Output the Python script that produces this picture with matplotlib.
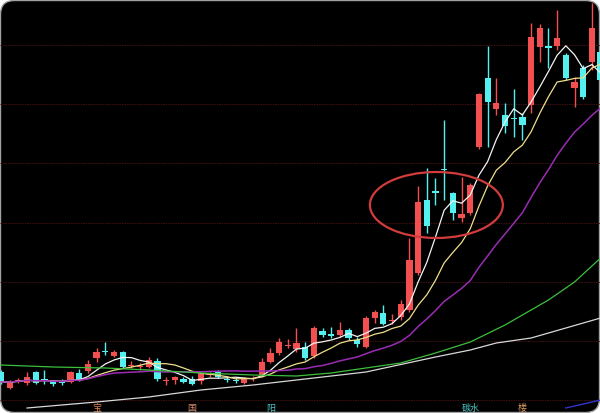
import numpy as np
import pandas as pd
import matplotlib
matplotlib.use('Agg')
import matplotlib.pyplot as plt
from matplotlib.patches import FancyBboxPatch, Ellipse
from matplotlib.transforms import IdentityTransform

plt.rcParams['font.family'] = ['Noto Sans CJK SC', 'DejaVu Sans']

# K线数据 (开, 高, 低, 收)
opens = [4.56, 4.24, 4.38, 4.34, 4.56, 4.42, 4.36, 4.36, 4.36, 4.54,
         4.58, 4.84, 4.98, 4.88, 4.96, 4.68, 4.66, 4.66, 4.78, 4.38,
         4.40, 4.42, 4.42, 4.38, 4.50, 4.56, 4.42, 4.40, 4.34, 4.42,
         4.50, 4.76, 4.94, 5.08, 5.02, 5.06, 4.88, 5.38, 5.32, 5.30,
         5.40, 5.20, 5.06, 5.64, 5.74, 5.58, 5.66, 5.80, 6.54, 8.00,
         8.18, 8.62, 8.14, 7.64, 7.74, 9.06, 10.44, 9.82, 9.70, 9.64,
         9.66, 9.90, 11.06, 11.08, 11.08, 10.90, 10.24, 10.64, 10.76, 10.96]
highs = [4.60, 4.40, 4.44, 4.56, 4.58, 4.60, 4.40, 4.42, 4.58, 4.62,
         4.80, 5.04, 5.16, 5.00, 4.98, 4.78, 4.74, 4.86, 4.84, 4.46,
         4.48, 4.46, 4.48, 4.54, 4.56, 4.60, 4.48, 4.46, 4.46, 4.48,
         4.84, 5.04, 5.24, 5.22, 5.44, 5.16, 5.48, 5.44, 5.46, 5.56,
         5.44, 5.26, 5.68, 5.80, 5.90, 5.72, 6.00, 7.24, 8.28, 8.64,
         8.44, 9.60, 8.16, 8.46, 8.34, 10.14, 11.08, 10.44, 9.94, 10.22,
         9.74, 11.54, 11.52, 11.44, 11.80, 10.94, 10.46, 10.70, 11.94, 11.00]
lows = [4.32, 4.22, 4.34, 4.30, 4.32, 4.32, 4.28, 4.30, 4.34, 4.38,
        4.54, 4.76, 4.90, 4.86, 4.64, 4.64, 4.60, 4.64, 4.38, 4.30,
        4.32, 4.34, 4.30, 4.32, 4.46, 4.44, 4.36, 4.34, 4.32, 4.38,
        4.46, 4.74, 4.90, 5.04, 4.96, 4.80, 4.84, 5.26, 5.24, 5.26,
        5.20, 5.06, 5.04, 5.54, 5.50, 5.52, 5.60, 5.76, 6.50, 7.34,
        7.90, 8.00, 7.60, 7.56, 7.70, 9.02, 9.06, 9.70, 9.34, 9.26,
        9.20, 9.74, 10.76, 10.64, 11.00, 10.40, 9.86, 10.02, 10.60, 10.34]
closes = [4.36, 4.36, 4.40, 4.46, 4.34, 4.40, 4.32, 4.34, 4.56, 4.40,
          4.72, 4.96, 4.96, 4.96, 4.66, 4.70, 4.68, 4.80, 4.42, 4.40,
          4.46, 4.36, 4.32, 4.52, 4.52, 4.46, 4.40, 4.38, 4.44, 4.44,
          4.76, 4.94, 5.16, 5.10, 5.14, 4.84, 5.44, 5.30, 5.28, 5.40,
          5.24, 5.12, 5.64, 5.76, 5.52, 5.60, 5.92, 6.80, 7.96, 7.48,
          8.14, 8.60, 7.74, 7.72, 8.30, 10.12, 9.96, 9.94, 9.48, 9.62,
          9.50, 11.26, 11.44, 11.04, 11.24, 10.44, 10.36, 10.06, 11.44, 10.40]

# 长周期均线
ma60_idx = [0, 6, 12, 17, 23, 29, 34, 38, 42, 46, 50, 54, 58, 61, 63, 66, 69]
ma60_val = [4.70, 4.66, 4.64, 4.60, 4.54, 4.50, 4.48, 4.54, 4.64, 4.74,
            4.94, 5.16, 5.50, 5.80, 6.00, 6.36, 6.84]
ma120_idx = [3, 11, 17, 23, 29, 34, 42, 50, 54, 57, 61, 65, 69]
ma120_val = [3.84, 3.96, 4.06, 4.20, 4.30, 4.40, 4.56, 4.86, 5.00, 5.14,
             5.24, 5.44, 5.64]
ma250_idx = [65, 67, 69]
ma250_val = [3.84, 3.92, 4.00]

# 事件标记
mark_idx = [11, 22, 31, 54, 60]
mark_txt = ['宝', '国', '阳', '碳水', '楼']
mark_col = ['#e08a50', '#d88a6a', '#4cc8c8', '#4cc8c8', '#e0a060']

up_col = '#f25050'
down_col = '#54f0f0'

fig = plt.figure(figsize=(6, 4.13), dpi=100, facecolor='white')
box = FancyBboxPatch((0.5, 0.5), 599, 412, boxstyle='round,pad=0,rounding_size=14',
                     transform=IdentityTransform(), facecolor='black',
                     edgecolor='#a0a0a0', lw=1.0, zorder=-5)
fig.patches.append(box)

ax = fig.add_axes([0, 0, 1, 1])
ax.patch.set_visible(False)
ax.axis('off')

x = np.arange(len(closes))
o = np.array(opens)
c = np.array(closes)
h = np.array(highs)
l = np.array(lows)
up = c >= o
cols = np.where(up, up_col, down_col)

# 网格
for gy in np.linspace(4.0, 11.1, 7):
    ax.axhline(gy, color='#441212', lw=0.7, ls=(0, (1.5, 1)), zorder=1)

ax.vlines(x, l, h, colors=cols, lw=1.0, zorder=2)
body = np.maximum(np.abs(c - o), 0.02)
ax.bar(x, body, bottom=np.minimum(o, c), width=0.72, color=cols, zorder=3)

s = pd.Series(closes)
ma5 = s.rolling(5, min_periods=1).mean()
ma10 = s.rolling(10, min_periods=1).mean()
ma20 = s.rolling(20, min_periods=1).mean()

ax.plot(x, ma5, color='#f4f4f4', lw=0.9, zorder=4)
ax.plot(x, ma10, color='#f0e08a', lw=0.9, zorder=4)
ax.plot(x, ma20, color='#9a2cb4', lw=1.1, zorder=4)
ax.plot(ma60_idx, ma60_val, color='#3cc03c', lw=0.9, zorder=4)
ax.plot(ma120_idx, ma120_val, color='#d8d8d8', lw=0.9, zorder=4)
ax.plot(ma250_idx, ma250_val, color='#3434d0', lw=1.0, zorder=4)

ax.add_patch(Ellipse((50.1, 7.90), 15.3, 1.32, fill=False,
                     edgecolor='#d23c3c', lw=1.6, zorder=5))

for i, t, col in zip(mark_idx, mark_txt, mark_col):
    ax.text(i, 3.93, t, color=col, fontsize=6.5, ha='center', va='top', zorder=5)

ax.set_xlim(-0.115, 68.93)
ax.set_ylim(3.74, 12.0)

fig.savefig('out.png', dpi=100, facecolor='white')
